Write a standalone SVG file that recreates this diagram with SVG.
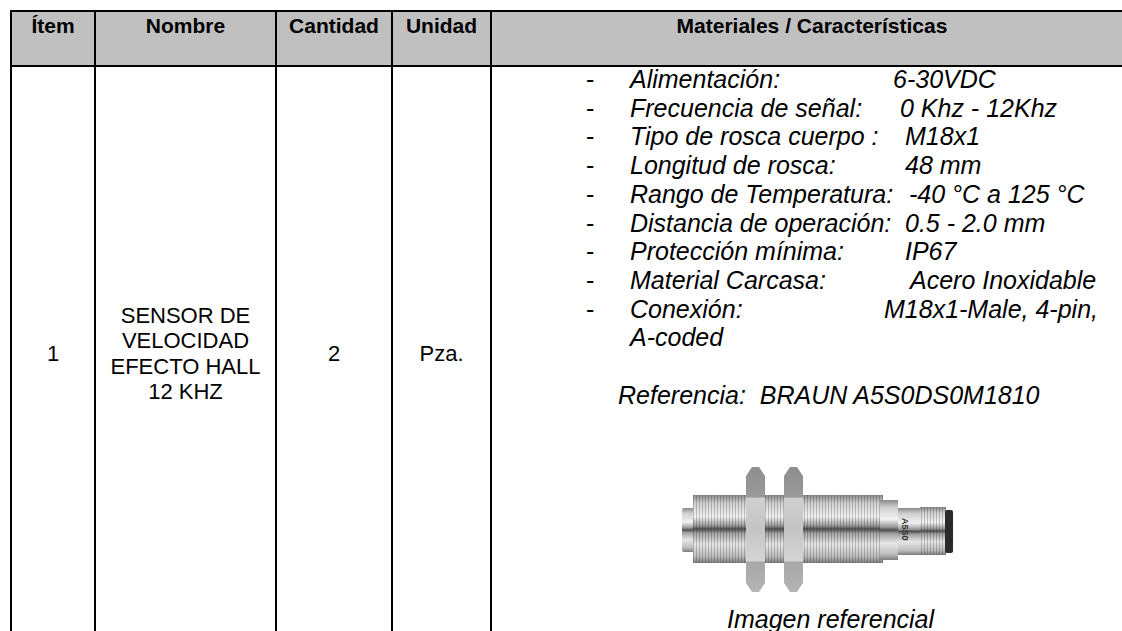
<svg xmlns="http://www.w3.org/2000/svg" width="1122" height="631" viewBox="0 0 1122 631">
<style>
.hd{font-family:"Liberation Sans",Arial,sans-serif;font-weight:bold;font-size:21px;fill:#000}
.tx{font-family:"Liberation Sans",Arial,sans-serif;font-size:22px;fill:#000}
.ds{font-family:"Liberation Sans",Arial,sans-serif;font-size:25px;fill:#000}
.it{font-family:"Liberation Sans",Arial,sans-serif;font-size:25px;font-style:italic;fill:#000}
.ln{stroke:#000;stroke-width:2;fill:none}
</style>
<defs>
<linearGradient id="metal" x1="0" y1="0" x2="0" y2="1">
<stop offset="0" stop-color="#8a8a8a"/>
<stop offset="0.12" stop-color="#cfcfcf"/>
<stop offset="0.32" stop-color="#f2f2f2"/>
<stop offset="0.45" stop-color="#9a9a9a"/>
<stop offset="0.5" stop-color="#505050"/>
<stop offset="0.56" stop-color="#a0a0a0"/>
<stop offset="0.72" stop-color="#e6e6e6"/>
<stop offset="0.9" stop-color="#bdbdbd"/>
<stop offset="1" stop-color="#7e7e7e"/>
</linearGradient>
<linearGradient id="nut" x1="0" y1="0" x2="0" y2="1">
<stop offset="0" stop-color="#8e8e8e"/>
<stop offset="0.24" stop-color="#9a9a9a"/>
<stop offset="0.25" stop-color="#d0d0d0"/>
<stop offset="0.5" stop-color="#c4c4c4"/>
<stop offset="0.75" stop-color="#d6d6d6"/>
<stop offset="0.76" stop-color="#a8a8a8"/>
<stop offset="1" stop-color="#b4b4b4"/>
</linearGradient>
<pattern id="thread" width="3" height="10" patternUnits="userSpaceOnUse">
<rect x="0" y="0" width="1" height="10" fill="#000" fill-opacity="0.2"/>
</pattern>
</defs>

<g id="table-lines">
<rect x="11" y="11" width="1111" height="55" fill="#c0c0c0"/>
<line class="ln" x1="10" y1="11" x2="1122" y2="11"/>
<line class="ln" x1="10" y1="66" x2="1122" y2="66"/>
<line class="ln" x1="11" y1="10" x2="11" y2="631"/>
<line class="ln" x1="95" y1="10" x2="95" y2="631"/>
<line class="ln" x1="276" y1="10" x2="276" y2="631"/>
<line class="ln" x1="392" y1="10" x2="392" y2="631"/>
<line class="ln" x1="491" y1="10" x2="491" y2="631"/>
</g>

<g id="header">
<text class="hd" x="53" y="33" text-anchor="middle">Ítem</text>
<text class="hd" x="185.5" y="33" text-anchor="middle">Nombre</text>
<text class="hd" x="334" y="33" text-anchor="middle">Cantidad</text>
<text class="hd" x="441.5" y="33" text-anchor="middle">Unidad</text>
<text class="hd" x="812" y="33" text-anchor="middle">Materiales / Características</text>
</g>

<g id="row1">
<text class="tx" x="53" y="361" text-anchor="middle">1</text>
<text class="tx" x="185.5" y="323" text-anchor="middle">SENSOR DE</text>
<text class="tx" x="185.5" y="348.3" text-anchor="middle">VELOCIDAD</text>
<text class="tx" x="185.5" y="373.6" text-anchor="middle">EFECTO HALL</text>
<text class="tx" x="185.5" y="398.9" text-anchor="middle">12 KHZ</text>
<text class="tx" x="334" y="361" text-anchor="middle">2</text>
<text class="tx" x="441.5" y="361" text-anchor="middle">Pza.</text>
</g>

<g id="specs">
<text class="ds" x="586" y="88">-</text>
<text class="ds" x="586" y="116.7">-</text>
<text class="ds" x="586" y="145.4">-</text>
<text class="ds" x="586" y="174.1">-</text>
<text class="ds" x="586" y="202.8">-</text>
<text class="ds" x="586" y="231.5">-</text>
<text class="ds" x="586" y="260.2">-</text>
<text class="ds" x="586" y="288.9">-</text>
<text class="ds" x="586" y="317.6">-</text>
<text class="it" x="630" y="88">Alimentación:</text>
<text class="it" x="893" y="88">6-30VDC</text>
<text class="it" x="630" y="116.7">Frecuencia de señal:</text>
<text class="it" x="900" y="116.7">0 Khz - 12Khz</text>
<text class="it" x="630" y="145.4">Tipo de rosca cuerpo :</text>
<text class="it" x="905" y="145.4">M18x1</text>
<text class="it" x="630" y="174.1">Longitud de rosca:</text>
<text class="it" x="905" y="174.1">48 mm</text>
<text class="it" x="630" y="202.8">Rango de Temperatura:</text>
<text class="it" x="909" y="202.8">-40 °C a 125 °C</text>
<text class="it" x="630" y="231.5">Distancia de operación:</text>
<text class="it" x="905" y="231.5">0.5 - 2.0 mm</text>
<text class="it" x="630" y="260.2">Protección mínima:</text>
<text class="it" x="905" y="260.2">IP67</text>
<text class="it" x="630" y="288.9">Material Carcasa:</text>
<text class="it" x="910" y="288.9">Acero Inoxidable</text>
<text class="it" x="630" y="317.6">Conexión:</text>
<text class="it" x="884" y="317.6">M18x1-Male, 4-pin,</text>
<text class="it" x="630" y="346.3">A-coded</text>
<text class="it" x="618" y="404" xml:space="preserve">Referencia:  BRAUN A5S0DS0M1810</text>
</g>

<g id="sensor-picture">
<rect x="682" y="508" width="14" height="44" rx="2" fill="url(#metal)"/>
<rect x="693" y="495" width="190" height="68" fill="url(#metal)"/>
<rect x="693" y="495" width="190" height="68" fill="url(#thread)"/>
<rect x="880" y="500" width="18" height="60" fill="url(#metal)"/>
<rect x="898" y="508" width="22" height="47" fill="url(#metal)"/>
<rect x="920" y="507" width="26" height="48" fill="url(#metal)"/>
<rect x="920" y="507" width="26" height="48" fill="url(#thread)"/>
<rect x="945" y="510" width="8" height="43" rx="2" fill="#2a2a2a"/>
<polygon points="746,476 752,467 759,467 765,476 765,583 759,592 752,592 746,583" fill="url(#nut)"/>
<polygon points="784,476 790,467 797,467 803,476 803,583 797,592 790,592 784,583" fill="url(#nut)"/>
<text x="902" y="518" transform="rotate(90 902 518)" style="font-family:'Liberation Sans',Arial,sans-serif;font-size:9px;font-weight:bold;fill:#333">A5S0</text>
<text class="it" x="727" y="628">Imagen referencial</text>
</g>
</svg>
